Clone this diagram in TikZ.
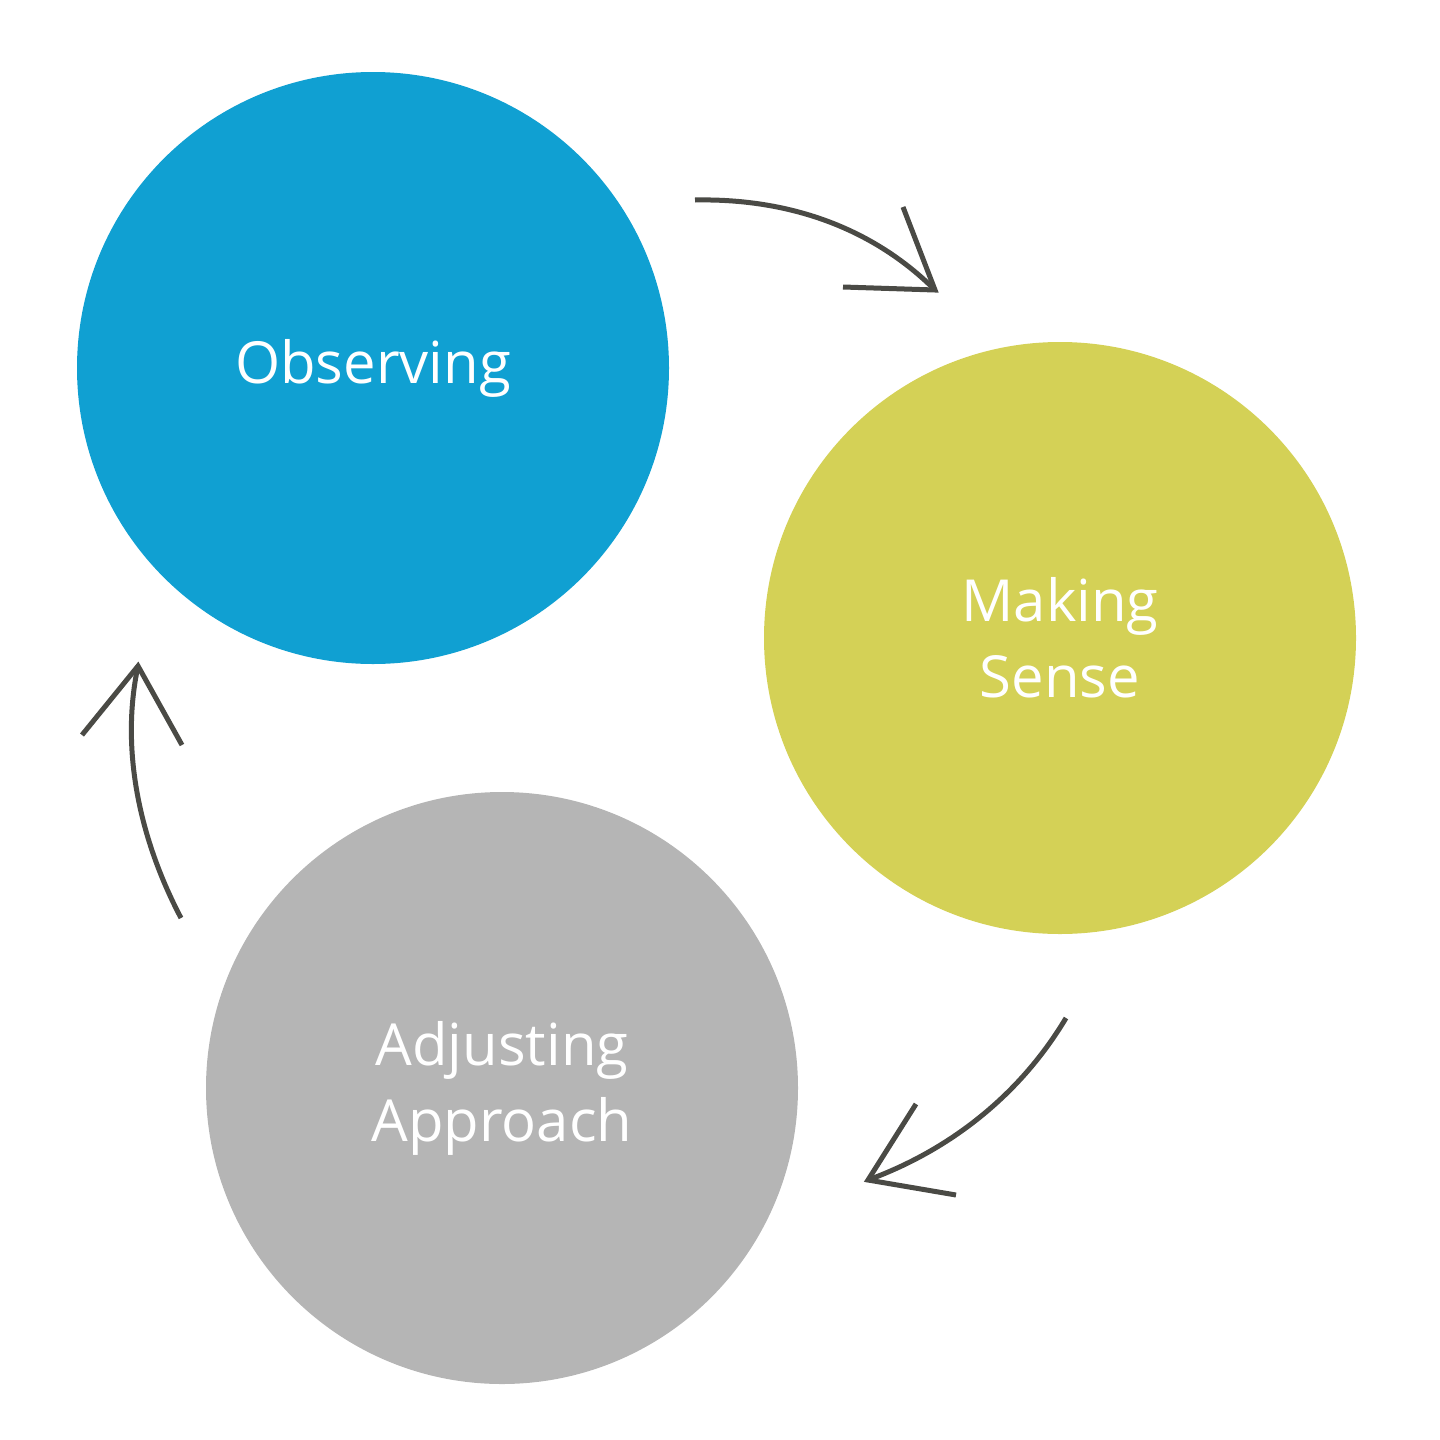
\documentclass[tikz,border=0pt]{standalone}
\usepackage{fontspec}
\setmainfont{Open Sans}
\definecolor{cblue}{HTML}{10A0D2}
\definecolor{cgreen}{HTML}{D4D156}
\definecolor{cgray}{HTML}{B5B5B5}
\definecolor{carrow}{HTML}{4A4A45}
\begin{document}
\begin{tikzpicture}[x=1pt,y=-1pt,
  circ/.style={circle,minimum size=592pt,inner sep=0pt,text=white,align=center,font=\fontsize{58}{76}\selectfont},
  arr/.style={draw=carrow,line width=5pt}]
\useasboundingbox (0,0) rectangle (1440,1440);
\node[circ,fill=cblue] (obs) at (373,368) {Observing};
\node[circ,fill=cgreen] (ms) at (1060,638) {Making\\Sense};
\node[circ,fill=cgray] (adj) at (502,1088) {Adjusting\\Approach};
% arrow 1
\coordinate (a1s) at (695,200); \coordinate (a1e) at (935,290);
\coordinate (a1l) at (903,207); \coordinate (a1r) at (843,287);
\draw[arr] (a1s) .. controls (800,198) and (880,235) .. (a1e);
\draw[arr,line join=miter] (a1l) -- (a1e) -- (a1r);
% arrow 2
\coordinate (a2s) at (1066,1018); \coordinate (a2e) at (868,1180);
\coordinate (a2l) at (916,1104); \coordinate (a2r) at (956,1195);
\draw[arr] (a2s) .. controls (1020,1095) and (950,1150) .. (a2e);
\draw[arr,line join=miter] (a2l) -- (a2e) -- (a2r);
% arrow 3
\coordinate (a3s) at (181,918); \coordinate (a3e) at (138,666);
\coordinate (a3l) at (82,735); \coordinate (a3r) at (182,745);
\draw[arr] (a3s) .. controls (140,840) and (120,750) .. (a3e);
\draw[arr,line join=miter] (a3l) -- (a3e) -- (a3r);
\end{tikzpicture}
\end{document}
